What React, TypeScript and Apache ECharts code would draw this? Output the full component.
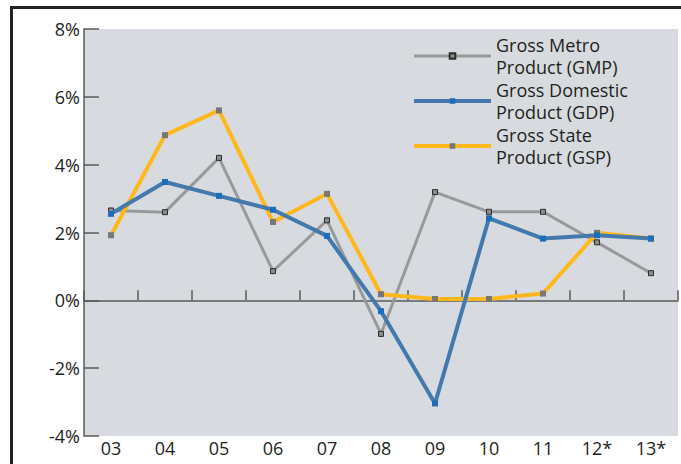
import React, { useEffect, useRef } from "react";
import * as echarts from "echarts";

const categories = ["03", "04", "05", "06", "07", "08", "09", "10", "11", "12*", "13*"];
const gmpValues = [2.65, 2.6, 4.2, 0.86, 2.36, -0.99, 3.19, 2.61, 2.61, 1.71, 0.8];
const gdpValues = [2.55, 3.49, 3.08, 2.67, 1.9, -0.32, -3.04, 2.42, 1.82, 1.92, 1.82];
const gspValues = [1.92, 4.87, 5.6, 2.31, 3.14, 0.18, 0.04, 0.04, 0.2, 1.99, 1.82];
const seriesNames = ["Gross Metro\nProduct (GMP)", "Gross Domestic\nProduct (GDP)", "Gross State\nProduct (GSP)"];

const FONT = "'Open Sans', 'Noto Sans', sans-serif";
const TEXT = "#231f20";
const GMP_LINE = "#999999";
const GDP_LINE = "#4479ad";
const GSP_LINE = "#ffb81c";

export default function App() {
  const ref = useRef<HTMLDivElement>(null);
  useEffect(() => {
    if (!ref.current) return;
    const chart = echarts.init(ref.current, null, { renderer: "svg" });
    chart.setOption({
      animation: false,
      textStyle: { fontFamily: FONT },
      grid: {
        left: 84,
        top: 29,
        right: 3,
        bottom: 28,
        show: true,
        backgroundColor: "#d7dbdf",
        borderWidth: 0,
      },
      legend: {
        orient: "vertical",
        left: 412,
        top: 34,
        padding: 0,
        itemWidth: 77,
        itemHeight: 7,
        itemGap: 1,
        data: [
          { name: seriesNames[0], lineStyle: { color: GMP_LINE, width: 3 } },
          { name: seriesNames[1], lineStyle: { color: GDP_LINE, width: 4 } },
          { name: seriesNames[2], lineStyle: { color: GSP_LINE, width: 4 } },
        ],
        textStyle: { fontFamily: FONT, fontSize: 18, color: TEXT, lineHeight: 22 },
      },
      xAxis: [
        {
          type: "category",
          data: categories,
          position: "bottom",
          axisLine: { show: false, onZero: false },
          axisTick: { show: false },
          axisLabel: { color: TEXT, fontSize: 18, fontFamily: FONT, margin: 3 },
        },
        {
          type: "category",
          data: categories,
          position: "bottom",
          axisLine: { show: true, onZero: true, lineStyle: { color: "#5a5a5a", width: 1.5 } },
          axisTick: { show: true, inside: true, length: 10, lineStyle: { color: "#5a5a5a", width: 1.5 } },
          axisLabel: { show: false },
        },
      ],
      yAxis: {
        type: "value",
        min: -4,
        max: 8,
        interval: 2,
        axisLine: { show: true, lineStyle: { color: "#5a5a5a", width: 1.5 } },
        axisTick: { show: true, inside: true, length: 15, lineStyle: { color: "#5a5a5a", width: 1.5 } },
        splitLine: { show: false },
        axisLabel: {
          formatter: "{value}%",
          color: TEXT,
          fontSize: 18,
          fontFamily: FONT,
          margin: 4,
          padding: [0, 0, 5, 0],
        },
      },
      series: [
        {
          name: seriesNames[0],
          type: "line",
          data: gmpValues,
          symbol: "rect",
          symbolSize: 5,
          lineStyle: { color: GMP_LINE, width: 3 },
          itemStyle: { color: "#8c8c8c", borderColor: "#2b2b2b", borderWidth: 1 },
          z: 2,
        },
        {
          name: seriesNames[1],
          type: "line",
          data: gdpValues,
          symbol: "rect",
          symbolSize: 6,
          lineStyle: { color: GDP_LINE, width: 4 },
          itemStyle: { color: "#1d6db8" },
          z: 4,
        },
        {
          name: seriesNames[2],
          type: "line",
          data: gspValues,
          symbol: "rect",
          symbolSize: 6,
          lineStyle: { color: GSP_LINE, width: 4 },
          itemStyle: { color: "#777777" },
          z: 3,
        },
      ],
      graphic: [
        {
          type: "line",
          shape: { x1: 10, y1: 7.5, x2: 681, y2: 7.5 },
          style: { stroke: "#222222", lineWidth: 3 },
          silent: true,
        },
        {
          type: "line",
          shape: { x1: 11.5, y1: 6, x2: 11.5, y2: 464 },
          style: { stroke: "#222222", lineWidth: 3 },
          silent: true,
        },
      ],
    });
    return () => chart.dispose();
  }, []);
  return (
    <div
      ref={ref}
      style={{ position: "absolute", left: 0, top: 0, width: 681, height: 464, background: "#ffffff" }}
    />
  );
}
